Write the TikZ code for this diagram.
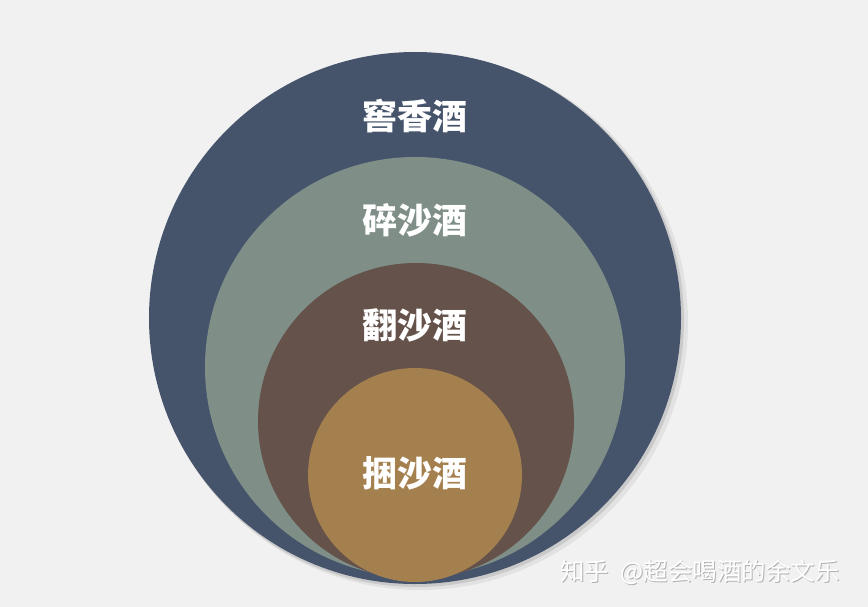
\documentclass[tikz,border=0pt]{standalone}
\usepackage{fontspec}
\newfontfamily\cjk{Noto Sans CJK SC}
\definecolor{bggray}{HTML}{F1F1F2}
\definecolor{jiaoblue}{HTML}{45546B}
\definecolor{suigreen}{HTML}{7F8F87}
\definecolor{fanbrown}{HTML}{65524A}
\definecolor{kuntan}{HTML}{A5804F}
\tikzstyle{ring}=[circle, inner sep=0pt, draw=none]
\tikzstyle{title}=[inner sep=2pt, text=white, font=\cjk\bfseries\fontsize{35}{35}\selectfont]
\tikzstyle{wmark}=[inner sep=0pt, font=\cjk\fontsize{24.5}{24.5}\selectfont]

\begin{document}
\begin{tikzpicture}[x=1pt, y=-1pt]

\fill [bggray] (0,0) rectangle (868,607);
\useasboundingbox (0,0) rectangle (868,607);

% soft shadow at the lower right
\fill [black, opacity=0.06] (420,322) circle (268);
\fill [black, opacity=0.10] (417,320) circle (267);

\node [ring, fill=jiaoblue, minimum size=532pt] (jiao) at (415,318) {};
\node [ring, fill=suigreen, minimum size=420pt] (sui) at (415,367) {};
\node [ring, fill=fanbrown, minimum size=316pt] (fan) at (416,421) {};
\node [ring, fill=kuntan, minimum size=214pt] (kun) at (415,475) {};

\node [title] (tjiao) at (415,116) {窖香酒};
\node [title] (tsui) at (415,220) {碎沙酒};
\node [title] (tfan) at (415,325) {翻沙酒};
\node [title] (tkun) at (415,473) {捆沙酒};

\node [wmark, text=black!30] (wm0) at (701,573) {知乎\ \ @超会喝酒的余文乐};
\node [wmark, text=white] (wm) at (700,572) {知乎\ \ @超会喝酒的余文乐};

\end{tikzpicture}
\end{document}
